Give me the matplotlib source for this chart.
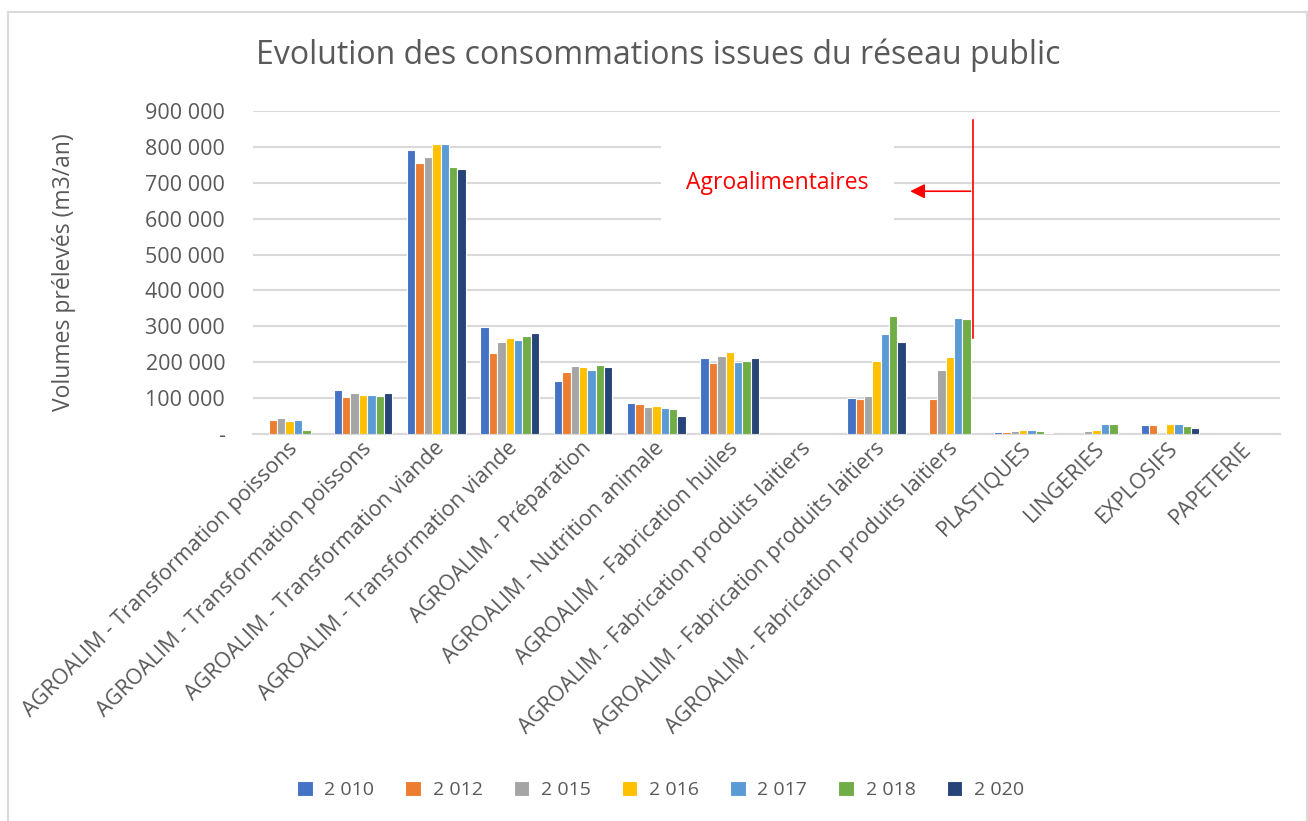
import matplotlib.pyplot as plt
import matplotlib.transforms as mtransforms
from matplotlib.lines import Line2D
import numpy as np

plt.rcParams['font.family'] = ['Open Sans', 'DejaVu Sans']

categories = ["AGROALIM - Transformation poissons", "AGROALIM - Transformation poissons",
              "AGROALIM - Transformation viande", "AGROALIM - Transformation viande",
              "AGROALIM - Préparation", "AGROALIM - Nutrition animale",
              "AGROALIM - Fabrication huiles", "AGROALIM - Fabrication produits laitiers",
              "AGROALIM - Fabrication produits laitiers", "AGROALIM - Fabrication produits laitiers",
              "PLASTIQUES", "LINGERIES", "EXPLOSIFS", "PAPETERIE"]
years = ["2 010", "2 012", "2 015", "2 016", "2 017", "2 018", "2 020"]

v2010 = [0, 122000, 792000, 298000, 148000, 87000, 212000, 0, 101000, 0, 6000, 0, 27000, 0]
v2012 = [40000, 103000, 755000, 225000, 173000, 83000, 198000, 1500, 99000, 99000, 6000, 0, 27000, 0]
v2015 = [44000, 115000, 770000, 257000, 191000, 76000, 219000, 0, 106000, 178000, 9000, 8000, 0, 800]
v2016 = [38000, 109000, 806000, 267000, 186000, 78000, 230000, 0, 205000, 214000, 11000, 12000, 28000, 1500]
v2017 = [40000, 108000, 806000, 262000, 178000, 72000, 201000, 0, 279000, 324000, 12000, 28000, 28000, 0]
v2018 = [12000, 106000, 744000, 272000, 192000, 70000, 205000, 0, 328000, 321000, 10000, 30000, 23000, 0]
v2020 = [0, 115000, 737000, 281000, 188000, 52000, 212000, 0, 256000, 0, 5000, 0, 18000, 0]
series = [v2010, v2012, v2015, v2016, v2017, v2018, v2020]

colors = ["#4472C4", "#ED7D31", "#A5A5A5", "#FFC000", "#5B9BD5", "#70AD47", "#264478"]
grey = "#595959"

fig = plt.figure(figsize=(13.08, 8.21), dpi=100)
ax = fig.add_axes([0.1934, 0.471, 0.7852, 0.3942])

x = np.arange(len(categories))
w = 0.8 / 7
for i, (vals, col, lab) in enumerate(zip(series, colors, years)):
    ax.bar(x + (i - 3) * w, vals, width=w, color=col, edgecolor="white", linewidth=0.8,
           label=lab, zorder=3)

ax.set_xlim(-0.5, len(categories) - 0.5)
ax.set_ylim(0, 900000)
yt = np.arange(0, 900001, 100000)
ax.set_yticks(yt)
ax.set_yticklabels(["-"] + ["{:,}".format(v).replace(",", " ") for v in yt[1:]],
                   fontsize=15.5, color=grey)
ax.grid(axis="y", color="#D9D9D9", linewidth=1.5, zorder=0)
for s in ["top", "right", "left"]:
    ax.spines[s].set_visible(False)
ax.spines["bottom"].set_color("#D9D9D9")
ax.spines["bottom"].set_linewidth(1.5)
ax.tick_params(axis="y", length=0, pad=20)
ax.tick_params(axis="x", length=0, pad=8)

ax.set_xticks(x)
ax.set_xticklabels(categories, rotation=45, ha="right", va="center", rotation_mode="anchor",
                   fontsize=15.5, color=grey)
off = mtransforms.ScaledTranslation(0.05, 0, fig.dpi_scale_trans)
for lbl in ax.get_xticklabels():
    lbl.set_transform(lbl.get_transform() + off)

ax.set_ylabel("Volumes prélevés (m3/an)", fontsize=16.5, color=grey)
ax.yaxis.set_label_coords(-0.172, 0.5)

fig.text(0.503, 0.933, "Evolution des consommations issues du réseau public",
         ha="center", va="center", fontsize=23, color=grey)

# annotation
ax.annotate("", xy=(8.42, 676000), xytext=(9.32, 676000),
            arrowprops=dict(arrowstyle="-|>", color="red", lw=1.2, mutation_scale=22), zorder=5)
ax.plot([9.32, 9.32], [268000, 873000], color="red", lw=1.2, zorder=5)
ax.text(6.65, 700000, "Agroalimentaires", ha="center", va="center", fontsize=16.5, color="red",
        zorder=6, bbox=dict(boxstyle="square,pad=1.1", fc="white", ec="none"))

leg = fig.legend(loc="center", bbox_to_anchor=(0.505, 0.038), ncol=7, frameon=False,
                 fontsize=14, handlelength=0.8, handleheight=0.8, columnspacing=1.6,
                 handletextpad=0.6)
for t in leg.get_texts():
    t.set_color(grey)

# chart border (top, left, right)
bx0, bx1, by = 8 / 1308, 1306.5 / 1308, 1 - 12 / 821
for xs, ys in [([bx0, bx1], [by, by]), ([bx0, bx0], [0, by]), ([bx1, bx1], [0, by])]:
    fig.add_artist(Line2D(xs, ys, transform=fig.transFigure, color="#D9D9D9", lw=1.5))

fig.savefig("out.png", dpi=100)
